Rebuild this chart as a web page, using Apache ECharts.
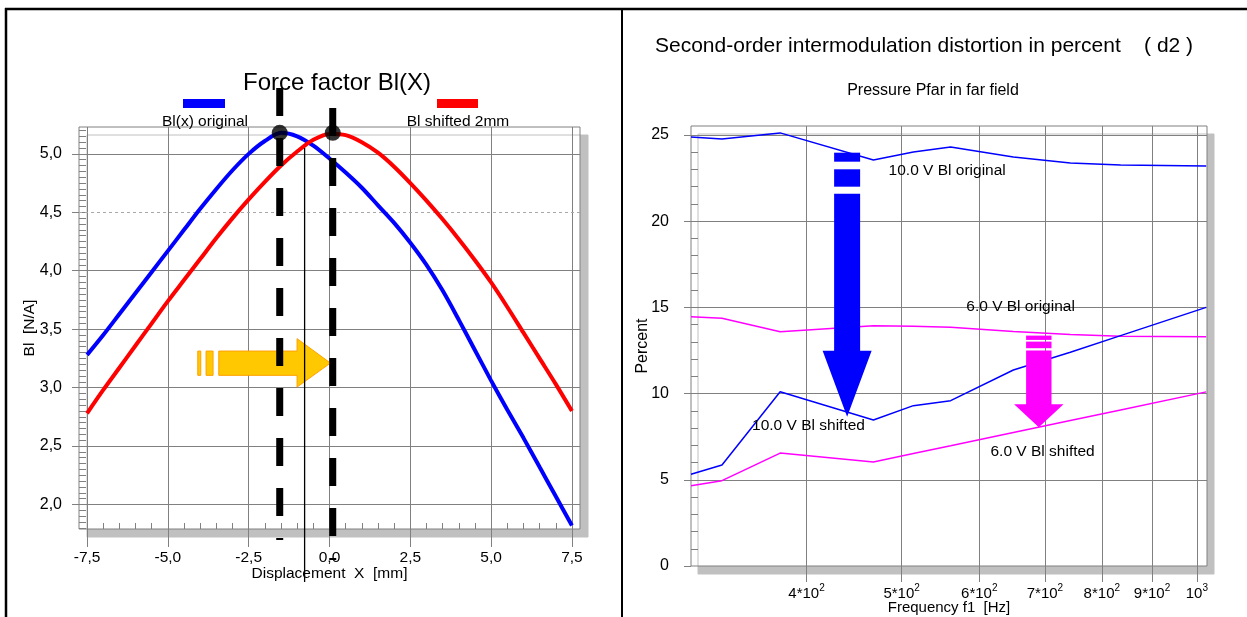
<!DOCTYPE html>
<html><head><meta charset="utf-8">
<script src="https://cdn.jsdelivr.net/npm/echarts@6/dist/echarts.min.js"></script>
<style>html,body{margin:0;padding:0;background:#fff}#c{width:1247px;height:617px}</style>
</head><body><div id="c"></div>
<script>
// ---------- Left chart data: Force factor Bl(X) ----------
const dispX = [-7.5,-7,-6.5,-6,-5.5,-5,-4.5,-4,-3.5,-3,-2.5,-2,-1.5,-1,-0.5,0,0.5,1,1.5,2,2.5,3,3.5,4,4.5,5,5.5,6,6.5,7,7.5];
const blOriginal = [3.28,3.45,3.63,3.81,3.99,4.17,4.35,4.53,4.70,4.86,5.00,5.11,5.18,5.15,5.07,4.96,4.84,4.71,4.56,4.41,4.24,4.05,3.83,3.58,3.32,3.06,2.81,2.57,2.32,2.07,1.82];
const blShifted  = [2.78,2.98,3.17,3.36,3.55,3.74,3.92,4.10,4.28,4.45,4.61,4.76,4.90,5.02,5.12,5.17,5.16,5.10,5.01,4.89,4.75,4.60,4.44,4.27,4.09,3.90,3.69,3.47,3.25,3.03,2.80];
const peakX = [-1.54, 0.10];
const peakBl = [5.18, 5.18];
const midLineX = -0.77;
const leftXTicks = [-7.5,-5,-2.5,0,2.5,5,7.5];
const leftXTickLabels = ['-7,5','-5,0','-2,5','0,0','2,5','5,0','7,5'];
const leftYTicks = [2.0,2.5,3.0,3.5,4.0,4.5,5.0];
const leftYTickLabels = ['2,0','2,5','3,0','3,5','4,0','4,5','5,0'];

// ---------- Right chart data: d2 in percent ----------
const freqF1 = [305, 328, 376, 468, 514, 561, 650, 743, 836, 1022];
const d2_10V_original = [24.88, 24.77, 25.12, 23.55, 24.01, 24.30, 23.72, 23.38, 23.26, 23.20];
const d2_6V_original  = [14.46, 14.37, 13.59, 13.94, 13.90, 13.85, 13.60, 13.42, 13.32, 13.30];
const d2_10V_shifted  = [5.32, 5.86, 10.11, 8.47, 9.30, 9.59, 11.37, 12.40, 13.36, 15.00];
const d2_6V_shifted   = [4.66, 4.95, 6.55, 6.03, 6.52, 6.97, 7.74, 8.44, 9.05, 10.10];
const freqTicks = [400, 500, 600, 700, 800, 900, 1000];
const freqTickLabels = ['{b|4*10}{s|2}','{b|5*10}{s|2}','{b|6*10}{s|2}','{b|7*10}{s|2}','{b|8*10}{s|2}','{b|9*10}{s|2}','{b|10}{s|3}'];
const pctTicks = [0, 5, 10, 15, 20, 25];
const curveNames = ['10.0 V Bl original','6.0 V Bl original','10.0 V Bl shifted','6.0 V Bl shifted'];

// ---------- styling / annotation config ----------
const FONT = 'Liberation Sans, Arial, sans-serif';
const GRAY = '#808080';
const idx = (arr, v) => arr.findIndex(a => Math.abs(a - v) < 1e-6);
const leftXMinor = []; for (let i = -15; i <= 15; i++) leftXMinor.push(i * 0.5);
const leftYMinor = []; for (let i = 36; i <= 104; i++) leftYMinor.push(+(i * 0.05).toFixed(2));
const rightYMinor = []; for (let i = 1; i <= 25; i++) rightYMinor.push(i);

const annot = {
  curveLabels: [ {f: 485, v: 22.91}, {f: 582, v: 15.02}, {f: 352, v: 8.12}, {f: 616, v: 6.61} ],
  blueArrowTip: [440, 8.66],
  magentaArrowTip: [690, 8.05],
  orangeArrowTip: [0.03, 3.21]
};

const pair = (xs, ys) => xs.map((x, i) => [x, ys[i]]);

const chart = echarts.init(document.getElementById('c'), null, {renderer: 'canvas'});
const txt = {color: '#000', fontFamily: FONT};
const noLine = {show: false, onZero: false};

const option = {
  animation: false,
  backgroundColor: '#fff',
  textStyle: {fontFamily: FONT},
  grid: [
    {left: 79, top: 127, width: 501, height: 402, show: true, backgroundColor: '#fff', borderColor: GRAY, borderWidth: 1,
     shadowColor: '#c0c0c0', shadowOffsetX: 8, shadowOffsetY: 8, shadowBlur: 0, outerBoundsMode: 'none', containLabel: false},
    {left: 691, top: 126, width: 516, height: 440, show: true, backgroundColor: '#fff', borderColor: GRAY, borderWidth: 1,
     shadowColor: '#c0c0c0', shadowOffsetX: 7, shadowOffsetY: 8, shadowBlur: 0, outerBoundsMode: 'none', containLabel: false}
  ],
  xAxis: [
    {gridIndex: 0, type: 'value', min: -7.75, max: 7.75, position: 'bottom',
     axisLine: noLine, splitLine: {show: false},
     axisTick: {show: true, customValues: leftXTicks, length: 18, lineStyle: {color: GRAY}},
     axisLabel: {customValues: leftXTicks, formatter: v => leftXTickLabels[idx(leftXTicks, v)], margin: 21, fontSize: 15.5, ...txt},
     name: 'Displacement  X  [mm]', nameLocation: 'middle', nameGap: 37, nameMoveOverlap: false, nameTextStyle: {fontSize: 15.5, ...txt}},
    {gridIndex: 0, type: 'value', min: -7.75, max: 7.75, position: 'bottom',
     axisLine: noLine, splitLine: {show: false}, axisLabel: {show: false},
     axisTick: {show: true, inside: true, customValues: leftXMinor, length: 6, lineStyle: {color: GRAY}}},
    {gridIndex: 1, type: 'log', logBase: 10, min: 305, max: 1024, position: 'bottom',
     axisLine: noLine, splitLine: {show: false},
     axisTick: {show: true, customValues: freqTicks, length: 16, lineStyle: {color: GRAY}},
     axisLabel: {customValues: freqTicks, formatter: v => freqTickLabels[idx(freqTicks, v)], margin: 17,
       rich: {b: {fontSize: 15, lineHeight: 18, verticalAlign: 'bottom', ...txt}, s: {fontSize: 10, lineHeight: 18, verticalAlign: 'top', ...txt}}},
     name: 'Frequency f1  [Hz]', nameLocation: 'middle', nameGap: 34, nameMoveOverlap: false, nameTextStyle: {fontSize: 15, ...txt}}
  ],
  yAxis: [
    {gridIndex: 0, type: 'value', min: 1.79, max: 5.23, position: 'left',
     axisLine: noLine, splitLine: {show: false},
     axisTick: {show: true, customValues: leftYTicks, length: 7, lineStyle: {color: GRAY}},
     axisLabel: {customValues: leftYTicks, formatter: v => leftYTickLabels[idx(leftYTicks, v)], margin: 17, fontSize: 16, ...txt},
     name: 'Bl  [N/A]', nameLocation: 'middle', nameGap: 41, nameMoveOverlap: false, nameTextStyle: {fontSize: 15.5, ...txt}},
    {gridIndex: 0, type: 'value', min: 1.79, max: 5.23, position: 'left',
     axisLine: noLine, splitLine: {show: false}, axisLabel: {show: false},
     axisTick: {show: true, inside: true, customValues: leftYMinor, length: 7, lineStyle: {color: GRAY}}},
    {gridIndex: 1, type: 'value', min: 0, max: 25.52, position: 'left',
     axisLine: noLine, splitLine: {show: false},
     axisTick: {show: true, customValues: pctTicks, length: 7, lineStyle: {color: GRAY}},
     axisLabel: {customValues: pctTicks, margin: 22, fontSize: 16, ...txt},
     name: 'Percent', nameLocation: 'middle', nameGap: 40, nameMoveOverlap: false, nameTextStyle: {fontSize: 16, ...txt}},
    {gridIndex: 1, type: 'value', min: 0, max: 25.52, position: 'left',
     axisLine: noLine, splitLine: {show: false}, axisLabel: {show: false},
     axisTick: {show: true, inside: true, customValues: rightYMinor, length: 7, lineStyle: {color: GRAY}}}
  ],
  series: [
    {type: 'line', xAxisIndex: 0, yAxisIndex: 0, data: [], silent: true,
     markLine: {silent: true, z: 1, symbol: ['none', 'none'], label: {show: false}, animation: false,
       lineStyle: {color: GRAY, width: 1, type: 'solid'},
       data: [...leftXTicks.map(v => ({xAxis: v})),
              ...leftYTicks.map(v => v === 4.5 ? {yAxis: v, lineStyle: {type: [3, 3], color: '#a8a8a8'}} : {yAxis: v})]}},
    {type: 'line', name: 'Bl(x) original', xAxisIndex: 0, yAxisIndex: 0, data: pair(dispX, blOriginal), smooth: 0.3,
     showSymbol: false, lineStyle: {color: '#0000ff', width: 4}, z: 3},
    {type: 'line', name: 'Bl shifted 2mm', xAxisIndex: 0, yAxisIndex: 0, data: pair(dispX, blShifted), smooth: 0.3,
     showSymbol: false, lineStyle: {color: '#ff0000', width: 4}, z: 3},
    {type: 'scatter', xAxisIndex: 0, yAxisIndex: 0, data: pair(peakX, peakBl), symbolSize: 16,
     itemStyle: {color: '#000'}, z: 10},
    {type: 'line', xAxisIndex: 2, yAxisIndex: 2, data: [], silent: true,
     markLine: {silent: true, z: 1, symbol: ['none', 'none'], label: {show: false}, animation: false,
       lineStyle: {color: GRAY, width: 1, type: 'solid'},
       data: [...freqTicks.map(v => ({xAxis: v})), ...pctTicks.filter(v => v > 0).map(v => ({yAxis: v}))]}},
    {type: 'line', name: curveNames[0], xAxisIndex: 2, yAxisIndex: 2, data: pair(freqF1, d2_10V_original),
     showSymbol: false, lineStyle: {color: '#0000ff', width: 1.5}, z: 3},
    {type: 'line', name: curveNames[1], xAxisIndex: 2, yAxisIndex: 2, data: pair(freqF1, d2_6V_original),
     showSymbol: false, lineStyle: {color: '#ff00ff', width: 1.5}, z: 3},
    {type: 'line', name: curveNames[2], xAxisIndex: 2, yAxisIndex: 2, data: pair(freqF1, d2_10V_shifted),
     showSymbol: false, lineStyle: {color: '#0000ff', width: 1.5}, z: 3},
    {type: 'line', name: curveNames[3], xAxisIndex: 2, yAxisIndex: 2, data: pair(freqF1, d2_6V_shifted),
     showSymbol: false, lineStyle: {color: '#ff00ff', width: 1.5}, z: 3}
  ]
};
chart.setOption(option);

// ---------- decorations ----------
const P = (gi, pt) => chart.convertToPixel({gridIndex: gi}, pt);
const XP = (v) => chart.convertToPixel({xAxisIndex: 0}, v);
const g = [];
// page frame lines
g.push({type: 'line', shape: {x1: 5, y1: 9, x2: 1247, y2: 9}, style: {stroke: '#000', lineWidth: 2.5}, z: 20});
g.push({type: 'line', shape: {x1: 6, y1: 8, x2: 6, y2: 617}, style: {stroke: '#000', lineWidth: 2.5}, z: 20});
g.push({type: 'line', shape: {x1: 622, y1: 8, x2: 622, y2: 617}, style: {stroke: '#000', lineWidth: 2}, z: 20});

// left titles and legend
g.push({type: 'text', x: 337, y: 83, style: {text: 'Force factor Bl(X)', font: '24px ' + FONT, fill: '#000', textAlign: 'center', textVerticalAlign: 'middle'}, z: 20});
g.push({type: 'rect', shape: {x: 183, y: 99, width: 42, height: 9}, style: {fill: '#0000ff'}, z: 20});
g.push({type: 'rect', shape: {x: 437, y: 99, width: 41, height: 9}, style: {fill: '#ff0000'}, z: 20});
g.push({type: 'text', x: 205, y: 122, style: {text: 'Bl(x) original', font: '15.5px ' + FONT, fill: '#000', textAlign: 'center', textVerticalAlign: 'middle'}, z: 20});
g.push({type: 'text', x: 458, y: 122, style: {text: 'Bl shifted 2mm', font: '15.5px ' + FONT, fill: '#000', textAlign: 'center', textVerticalAlign: 'middle'}, z: 20});

// dashed peak lines and middle line
const dashTops = [88, 108];
peakX.forEach((px, i) => {
  const x = XP(px);
  g.push({type: 'line', shape: {x1: x, y1: dashTops[i], x2: x, y2: dashTops[i] + 452},
    style: {stroke: '#000', lineWidth: 7, lineDash: [28, 22], lineCap: 'butt'}, z: 8});
});
const mx = XP(midLineX);
g.push({type: 'line', shape: {x1: mx, y1: 148, x2: mx, y2: 582}, style: {stroke: '#000', lineWidth: 1.3}, z: 8});

// arrows
function arrow(tip, body, bars, fill, stroke) {
  g.push({type: 'polygon', shape: {points: body.map(p => [tip[0] + p[0], tip[1] + p[1]])},
    style: {fill: fill, stroke: stroke || null, lineWidth: stroke ? 1 : 0}, z: 6});
  bars.forEach(b => g.push({type: 'rect', shape: {x: tip[0] + b[0], y: tip[1] + b[1], width: b[2], height: b[3]},
    style: {fill: fill, stroke: stroke || null, lineWidth: stroke ? 1 : 0}, z: 6}));
}
arrow(P(0, annot.orangeArrowTip),
  [[-111.7,-12],[-33.4,-12],[-33.4,-24.4],[0,0],[-33.4,24],[-33.4,12.3],[-111.7,12.3]],
  [[-124.4,-12,7,24.3],[-132.7,-12,3,24.3]], '#ffc800', '#ffa000');
arrow(P(1, annot.blueArrowTip),
  [[-13,-223],[13,-223],[13,-66],[24.5,-66],[0,0],[-24.5,-66],[-13,-66]],
  [[-13,-247.4,26,17.4],[-13,-264,26,9]], '#0000ff');
arrow(P(1, annot.magentaArrowTip),
  [[-12.7,-76.6],[12.7,-76.6],[12.7,-23],[24.7,-23],[0,0],[-24.7,-23],[-12.7,-23]],
  [[-12.7,-85.6,25.4,6.6],[-12.7,-91.6,25.4,4.3]], '#ff00ff');

// right titles
g.push({type: 'text', x: 655, y: 46, style: {text: 'Second-order intermodulation distortion in percent    ( d2 )', font: '21px ' + FONT, fill: '#000', textAlign: 'left', textVerticalAlign: 'middle'}, z: 20});
g.push({type: 'text', x: 933, y: 91, style: {text: 'Pressure Pfar in far field', font: '16px ' + FONT, fill: '#000', textAlign: 'center', textVerticalAlign: 'middle'}, z: 20});

// curve labels
annot.curveLabels.forEach((c, i) => {
  const p = P(1, [c.f, c.v]);
  g.push({type: 'text', x: p[0], y: p[1], style: {text: curveNames[i], font: '15.5px ' + FONT, fill: '#000', textAlign: 'left', textVerticalAlign: 'middle'}, z: 20});
});

chart.setOption({graphic: {elements: g}});
</script>
</body></html>
